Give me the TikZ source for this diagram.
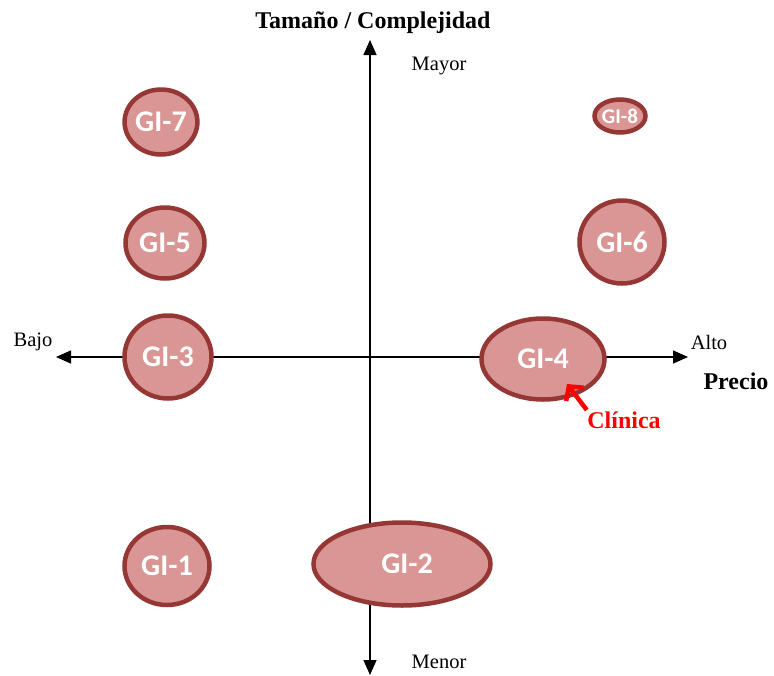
\documentclass[tikz,border=0pt]{standalone}
\usepackage{fontspec}
\setmainfont{Liberation Serif}
\newfontfamily\grupofont{Carlito}
\usetikzlibrary{shapes.geometric,arrows.meta}
\definecolor{rosado}{RGB}{217, 150, 148}
\definecolor{granate}{RGB}{149, 55, 53}
\definecolor{rojo}{RGB}{255, 0, 0}
\tikzset{
  grupo/.style={ellipse, draw=granate, fill=rosado, line width=4.5pt, inner sep=0pt,
                text=white, font=\grupofont\bfseries\fontsize{30}{30}\selectfont},
  eje/.style={line width=1.3pt, -{Triangle[length=15pt,width=13pt]}},
  rotulo/.style={font=\fontsize{20.5}{20.5}\selectfont},
  titulo/.style={font=\bfseries\fontsize{24}{24}\selectfont},
}

\begin{document}
\begin{tikzpicture}[x=1pt, y=-1pt]
            \useasboundingbox (0,0) rectangle (774,675);
            \coordinate (centro)    at (370,357);
            \coordinate (arriba)    at (370, 40);
            \coordinate (abajo)     at (370,675);
            \coordinate (izquierda) at ( 56,357);
            \coordinate (derecha)   at (688,357);
            \draw[eje] (centro) -- (arriba);
            \draw[eje] (centro) -- (abajo);
            \draw[eje] (centro) -- (izquierda);
            \draw[eje] (centro) -- (derecha);

            \node[titulo] (tamano) at (373, 23) {Tamaño / Complejidad};
            \node[titulo] (precio) at (736,381) {Precio};
            \node[rotulo] (mayor)  at (439, 66) {Mayor};
            \node[rotulo] (menor)  at (439,662) {Menor};
            \node[rotulo] (bajo)   at ( 33,342) {Bajo};
            \node[rotulo] (alto)   at (709,342) {Alto};

            \node[grupo, minimum width= 70pt, minimum height=65pt] (gi7) at (161,122) {GI-7};
            \node[grupo, minimum width= 45pt, minimum height=33pt,
                  font=\grupofont\bfseries\fontsize{21}{21}\selectfont] (gi8) at (620,116) {GI-8};
            \node[grupo, minimum width= 79pt, minimum height=71pt] (gi5) at (165,243) {GI-5};
            \node[grupo, minimum width= 85pt, minimum height=83pt] (gi6) at (622,242) {GI-6};
            \node[grupo, minimum width= 87pt, minimum height=83pt] (gi3) at (168,357) {GI-3};
            \node[grupo, minimum width=123pt, minimum height=81pt] (gi4) at (543,359) {GI-4};
            \node[grupo, minimum width= 85pt, minimum height=78pt] (gi1) at (167,566) {GI-1};
            \node[grupo, minimum width=177pt, minimum height=83pt] (gi2) at (402,564) {\hspace{10pt}GI-2};

            \node[titulo, text=rojo] (clinica) at (624,420) {Clínica};
            \coordinate (punta) at (567,384);
            \draw[rojo, line width=4.5pt, -{Straight Barb[length=10pt,width=22pt]}]
                 ([xshift=3pt,yshift=-2pt]clinica.north west) -- (punta);
        \end{tikzpicture}
\end{document}
